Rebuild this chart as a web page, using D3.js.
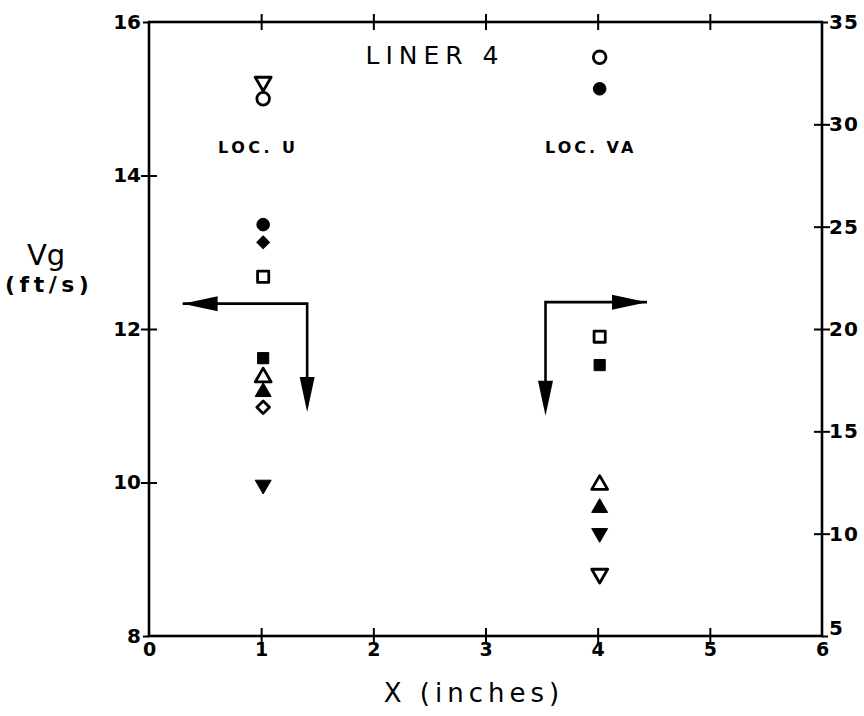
<!DOCTYPE html>
<html>
<head>
<meta charset="utf-8">
<script src="https://cdn.jsdelivr.net/npm/d3@7"></script>
<style>
  html, body { margin: 0; padding: 0; background: #fff; }
  svg { display: block; }
  text { fill: #000; }
</style>
</head>
<body>
<svg id="chart" width="864" height="716"></svg>
<script>
// Gas velocity Vg at two measurement locations in liner 4
const symbolKinds = ["openCircle", "filledCircle", "openSquare", "filledSquare",
                     "openTriangle", "filledTriangle", "openDown", "filledDown",
                     "openDiamond", "filledDiamond"];
const locUx = 1;
const locUValues = [15.0, 13.36, 12.68, 11.62, 11.37, 11.18, 15.22, 9.97, 10.98, 13.13];
const locVAx = 4;
const locVAValues = [15.54, 15.13, 11.90, 11.53, 9.97, 9.67, 8.81, 9.34, null, null];

const xTicks = [0, 1, 2, 3, 4, 5, 6];
const yLeftTicks = [8, 10, 12, 14, 16];
const yRightTicks = [5, 10, 15, 20, 25, 30, 35];

// Flow-direction arrows: corner point, horizontal tip x, vertical tip y
const arrowU = { cx: 1.41, cy: 12.33, hx: 0.30, vy: 10.92 };
const arrowVA = { cx: 3.535, cy: 12.35, hx: 4.44, vy: 10.87 };

const svg = d3.select("#chart");
const padL = 149, padR = 822, padT = 22, padB = 636;

const x = d3.scaleLinear().domain([0, 6]).range([padL, padR]);
const y = d3.scaleLinear().domain([8, 16]).range([padB, padT]);
const y2 = d3.scaleLinear().domain([5, 35]).range([padB, padT]);

const tickFont = "'DejaVu Sans', sans-serif";

const gx = svg.append("g").attr("transform", `translate(0,${padB})`)
  .call(d3.axisBottom(x).tickValues(xTicks).tickFormat(d3.format("d")).tickSize(0).tickPadding(7));
gx.selectAll(".tick").each(function(d) {
  if (d !== 0 && d !== 6) d3.select(this).append("line").attr("y1", -8).attr("y2", 8).attr("stroke", "#000").attr("stroke-width", 2);
});
gx.select(".domain").remove();
gx.selectAll("text").attr("font-family", tickFont).attr("font-size", 19).attr("font-weight", "bold");

const gTop = svg.append("g").attr("transform", `translate(0,${padT})`)
  .call(d3.axisTop(x).tickValues([1, 2, 3, 4, 5]).tickFormat("").tickSize(0));
gTop.select(".domain").remove();
gTop.selectAll(".tick").append("line").attr("y1", -8).attr("y2", 8).attr("stroke", "#000").attr("stroke-width", 2);

const gy = svg.append("g").attr("transform", `translate(${padL},0)`)
  .call(d3.axisLeft(y).tickValues(yLeftTicks).tickFormat(d3.format("d")).tickSize(0).tickPadding(8));
gy.select(".domain").remove();
gy.selectAll(".tick").each(function(d) {
  if (d !== 8 && d !== 16) d3.select(this).append("line").attr("x1", -8).attr("x2", 8).attr("stroke", "#000").attr("stroke-width", 2);
  else d3.select(this).append("line").attr("x1", -6).attr("x2", 0).attr("stroke", "#000").attr("stroke-width", 2);
});
gy.selectAll("text").attr("font-family", tickFont).attr("font-size", 20).attr("font-weight", "bold");

const gy2 = svg.append("g").attr("transform", `translate(${padR},0)`)
  .call(d3.axisRight(y2).tickValues(yRightTicks).tickFormat(d3.format("d")).tickSize(0).tickPadding(7));
gy2.select(".domain").remove();
gy2.selectAll(".tick").each(function(d) {
  if (d !== 5 && d !== 35) d3.select(this).append("line").attr("x1", -8).attr("x2", 8).attr("stroke", "#000").attr("stroke-width", 2);
  else d3.select(this).append("line").attr("x1", 0).attr("x2", 6).attr("stroke", "#000").attr("stroke-width", 2);
});
gy2.selectAll("text").attr("font-family", tickFont).attr("font-size", 20).attr("font-weight", "bold")
  .attr("letter-spacing", 1);
gy2.selectAll(".tick").filter(d => d === 5).select("text").attr("dy", "-0.1em");

svg.append("rect").attr("x", padL).attr("y", padT).attr("width", padR - padL).attr("height", padB - padT)
  .attr("fill", "none").attr("stroke", "#000").attr("stroke-width", 2.6);

// Marker shapes
function markerPath(kind) {
  const base = kind.replace(/^(open|filled)/, "");
  let type, size;
  switch (base) {
    case "Circle": type = d3.symbolCircle; size = 125; break;
    case "Square": type = d3.symbolSquare; size = 125; break;
    case "Triangle": type = d3.symbolTriangle; size = 110; break;
    case "Down": type = d3.symbolTriangle; size = 110; break;
    case "Diamond": type = d3.symbolSquare; size = 80; break;
  }
  return d3.symbol().type(type).size(size)();
}
function markerRotation(kind) {
  if (kind.endsWith("Down")) return 180;
  if (kind.endsWith("Diamond")) return 45;
  return 0;
}

function drawColumn(xVal, values) {
  const pts = values.map((v, i) => ({ v, kind: symbolKinds[i] })).filter(d => d.v != null);
  svg.append("g").selectAll("path").data(pts).join("path")
    .attr("d", d => markerPath(d.kind))
    .attr("transform", d => `translate(${x(xVal) + 2},${y(d.v)}) rotate(${markerRotation(d.kind)})`)
    .attr("fill", d => d.kind.startsWith("open") ? "#fff" : "#000")
    .attr("stroke", "#000")
    .attr("stroke-linejoin", "round")
    .attr("stroke-width", d => d.kind.startsWith("open") ? 2.8 : 1);
}
drawColumn(locUx, locUValues);
drawColumn(locVAx, locVAValues);

// Arrows
function arrowHead(tipX, tipY, dir) {
  const len = 35, half = 7.5;
  let pts;
  if (dir === "left") pts = [[tipX, tipY], [tipX + len, tipY - half], [tipX + len, tipY + half]];
  if (dir === "right") pts = [[tipX, tipY], [tipX - len, tipY - half], [tipX - len, tipY + half]];
  if (dir === "down") pts = [[tipX, tipY], [tipX - half, tipY - len], [tipX + half, tipY - len]];
  svg.append("path").attr("d", "M" + pts.join("L") + "Z").attr("fill", "#000");
}
function drawArrow(a, hdir) {
  const cx = x(a.cx), cy = y(a.cy), hx = x(a.hx), vy = y(a.vy);
  svg.append("path")
    .attr("d", `M${hx},${cy}L${cx},${cy}L${cx},${vy - 20}`)
    .attr("fill", "none").attr("stroke", "#000").attr("stroke-width", 2.6);
  arrowHead(hx, cy, hdir);
  arrowHead(cx, vy, "down");
}
drawArrow(arrowU, "left");
drawArrow(arrowVA, "right");

// Annotations
svg.append("text").attr("x", 435).attr("y", 64).attr("text-anchor", "middle")
  .attr("font-family", tickFont).attr("font-size", 25).attr("letter-spacing", 6)
  .text("LINER 4");
svg.append("text").attr("x", 218).attr("y", 153)
  .attr("font-family", tickFont).attr("font-size", 16).attr("font-weight", "bold").attr("letter-spacing", 3.5)
  .text("LOC. U");
svg.append("text").attr("x", 545).attr("y", 153)
  .attr("font-family", tickFont).attr("font-size", 16).attr("font-weight", "bold").attr("letter-spacing", 3)
  .text("LOC. VA");

// Axis titles
svg.append("text").attr("x", 27).attr("y", 265)
  .attr("font-family", tickFont).attr("font-size", 29)
  .text("Vg");
svg.append("text").attr("x", 5).attr("y", 292)
  .attr("font-family", tickFont).attr("font-size", 22).attr("font-weight", "bold").attr("letter-spacing", 4.5)
  .text("(ft/s)");
svg.append("text").attr("x", 474).attr("y", 702).attr("text-anchor", "middle")
  .attr("font-family", tickFont).attr("font-size", 26).attr("letter-spacing", 5)
  .text("X (inches)");
</script>
</body>
</html>
